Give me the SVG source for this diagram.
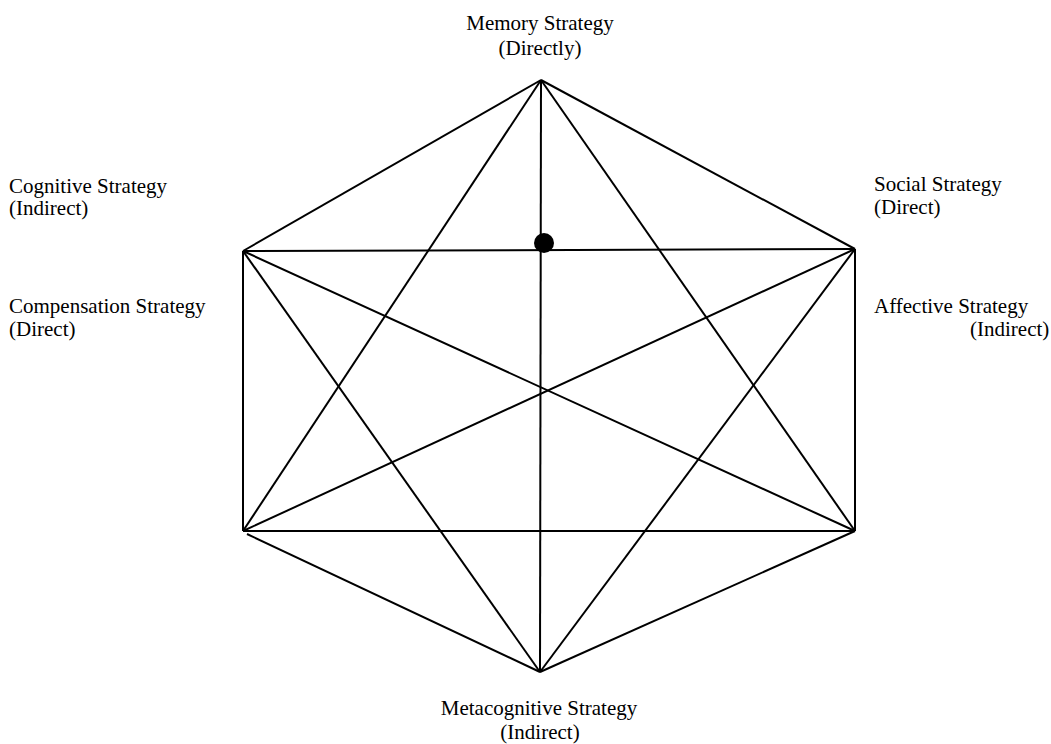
<svg xmlns="http://www.w3.org/2000/svg" width="1051" height="744" viewBox="0 0 1051 744">
<style>
.lbl{font-family:"Liberation Serif","Times New Roman",serif;font-size:21px;fill:#000}
.e{stroke:#000;stroke-width:2;fill:none}
</style>
<rect width="1051" height="744" fill="#fff"/>
<g id="connectors">
<line class="e" x1="541" y1="80" x2="243" y2="251"/>
<line class="e" x1="541" y1="80" x2="855" y2="249"/>
<line class="e" x1="243" y1="251" x2="243" y2="531"/>
<line class="e" x1="855" y1="249" x2="855" y2="531"/>
<line class="e" x1="247" y1="534" x2="540" y2="672"/>
<line class="e" x1="855" y1="531" x2="540" y2="672"/>
<line class="e" x1="541" y1="80" x2="540" y2="672"/>
<line class="e" x1="243" y1="251" x2="855" y2="249"/>
<line class="e" x1="243" y1="531" x2="855" y2="531"/>
<line class="e" x1="541" y1="80" x2="243" y2="531"/>
<line class="e" x1="541" y1="80" x2="855" y2="531"/>
<line class="e" x1="243" y1="251" x2="540" y2="672"/>
<line class="e" x1="855" y1="249" x2="540" y2="672"/>
<line class="e" x1="243" y1="251" x2="855" y2="531"/>
<line class="e" x1="855" y1="249" x2="243" y2="531"/>
</g>
<g id="dot"><circle cx="544" cy="243" r="10" fill="#000"/></g>
<g id="memory">
<text class="lbl" x="540" y="30" text-anchor="middle">Memory Strategy</text>
<text class="lbl" x="540" y="55" text-anchor="middle">(Directly)</text>
</g>
<g id="cognitive">
<text class="lbl" x="9" y="193">Cognitive Strategy</text>
<text class="lbl" x="9" y="215">(Indirect)</text>
</g>
<g id="compensation">
<text class="lbl" x="9" y="313">Compensation Strategy</text>
<text class="lbl" x="9" y="336">(Direct)</text>
</g>
<g id="social">
<text class="lbl" x="874" y="191">Social Strategy</text>
<text class="lbl" x="874" y="214">(Direct)</text>
</g>
<g id="affective">
<text class="lbl" x="874" y="313">Affective Strategy</text>
<text class="lbl" x="970" y="336">(Indirect)</text>
</g>
<g id="metacognitive">
<text class="lbl" x="539" y="715" text-anchor="middle">Metacognitive Strategy</text>
<text class="lbl" x="540" y="739" text-anchor="middle">(Indirect)</text>
</g>
</svg>
